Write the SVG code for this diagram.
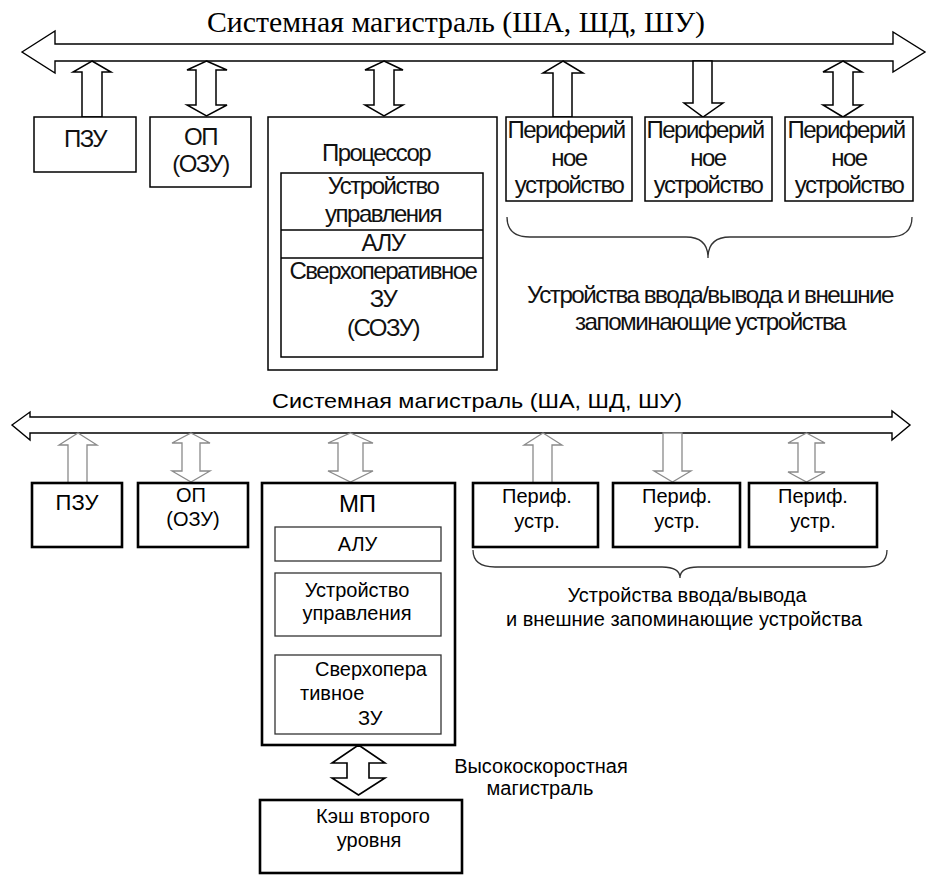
<svg xmlns="http://www.w3.org/2000/svg" width="933" height="881" viewBox="0 0 933 881">
<style>
.bg{fill:#fff}
.bus{fill:#fff;stroke:#000;stroke-width:1.4}
.arT{fill:#fff;stroke:#000;stroke-width:1.5}
.arB{fill:#fff;stroke:#8a8a8a;stroke-width:1.3}
.arC{fill:#fff;stroke:#000;stroke-width:1.6}
.boxT{fill:#fff;stroke:#000;stroke-width:1.5}
.boxB{fill:#fff;stroke:#000;stroke-width:2.6}
.inB{fill:#fff;stroke:#333;stroke-width:1.3}
.brace{fill:none;stroke:#333;stroke-width:1.3}
.tT{font-family:"Liberation Sans",Arial,sans-serif;font-size:24px;letter-spacing:-1.5px;fill:#111;text-anchor:middle}
.tB{font-family:"Liberation Sans",Arial,sans-serif;font-size:20px;fill:#000;text-anchor:middle}
.tBL{font-family:"Liberation Sans",Arial,sans-serif;font-size:20px;fill:#000}
.ttl{font-family:"Liberation Serif","Times New Roman",serif;font-size:29px;fill:#000;text-anchor:middle}
</style>
<rect class="bg" x="0" y="0" width="933" height="881"/>

<!-- TOP DIAGRAM -->
<text class="ttl" x="456" y="32" textLength="498" lengthAdjust="spacingAndGlyphs">Системная магистраль (ША, ШД, ШУ)</text>

<g id="connectors-top">
  <polygon id="bus-top" class="bus" points="22,52 55,31 55,44 893,44 893,32 925,52 893,72 893,61 55,61 55,73"/>
  <polygon class="arT" points="92,61 111,72 102,72 102,117 82,117 82,72 73,72"/>
  <polygon class="arT" points="206.5,61 227,70 216,70 216,105 227,105 206.5,116 187,105 196,105 196,70 187,70"/>
  <polygon class="arT" points="384,61 403,70 394,70 394,105 403,105 384,116 365,105 374,105 374,70 365,70"/>
  <polygon class="arT" points="563,61 583,73 572,73 572,117 553,117 553,73 543,73"/>
  <polygon class="arT" points="693,61 712,61 712,103 723,103 703,117 684,103 693,103"/>
  <polygon class="arT" points="843,61 862,72 853,72 853,105 862,105 843,117 823,105 833,105 833,72 823,72"/>
  <path class="brace" d="M507,217 Q507,237 530,237 L686,237 Q708,237 708,258 Q708,237 730,237 L889,237 Q912,237 912,217"/>
</g>

<g id="node-pzu-top">
  <rect class="boxT" x="34" y="117" width="102" height="55"/>
  <text class="tT" x="85" y="147">ПЗУ</text>
</g>
<g id="node-op-top">
  <rect class="boxT" x="150" y="117" width="101" height="70"/>
  <text class="tT" x="200.5" y="145">ОП</text>
  <text class="tT" x="200.5" y="172">(ОЗУ)</text>
</g>
<g id="node-cpu-top">
  <rect class="boxT" x="268" y="117" width="229" height="253"/>
  <text class="tT" x="376" y="161">Процессор</text>
  <rect class="boxT" x="281" y="173" width="202" height="184"/>
  <line x1="281" y1="230" x2="483" y2="230" stroke="#000" stroke-width="1.5"/>
  <line x1="281" y1="258" x2="483" y2="258" stroke="#000" stroke-width="1.5"/>
  <text class="tT" x="383" y="194">Устройство</text>
  <text class="tT" x="383" y="222">управления</text>
  <text class="tT" x="383" y="251">АЛУ</text>
  <text class="tT" x="383" y="279">Сверхоперативное</text>
  <text class="tT" x="383" y="307">ЗУ</text>
  <text class="tT" x="383" y="336">(СОЗУ)</text>
</g>
<g id="node-per1-top">
  <rect class="boxT" x="506" y="117" width="126" height="84"/>
  <text class="tT" x="566" y="138">Периферий</text>
  <text class="tT" x="569" y="166">ное</text>
  <text class="tT" x="569" y="193">устройство</text>
</g>
<g id="node-per2-top">
  <rect class="boxT" x="645" y="117" width="127" height="84"/>
  <text class="tT" x="705" y="138">Периферий</text>
  <text class="tT" x="708" y="166">ное</text>
  <text class="tT" x="708" y="193">устройство</text>
</g>
<g id="node-per3-top">
  <rect class="boxT" x="785" y="117" width="128" height="84"/>
  <text class="tT" x="846" y="138">Периферий</text>
  <text class="tT" x="849" y="166">ное</text>
  <text class="tT" x="849" y="193">устройство</text>
</g>
<g id="label-io-top">
  <text class="tT" x="710" y="303" textLength="366" lengthAdjust="spacingAndGlyphs">Устройства ввода/вывода и внешние</text>
  <text class="tT" x="710" y="330" textLength="270" lengthAdjust="spacingAndGlyphs">запоминающие устройства</text>
</g>

<!-- BOTTOM DIAGRAM -->
<text class="tB" x="477" y="408" style="font-size:21px" textLength="410" lengthAdjust="spacingAndGlyphs">Системная магистраль (ША, ШД, ШУ)</text>

<g id="connectors-bottom">
  <polygon id="bus-bottom" class="bus" points="12,425 30,412 30,417 892,417 892,411 910,425 892,440 892,433 30,433 30,440"/>
  <polygon class="arB" points="78,433 97,445 87,445 87,483 68,483 68,445 59,445"/>
  <polygon class="arB" points="191,433 210,443 200,443 200,471 210,471 191,482 172,471 182,471 182,443 172,443"/>
  <polygon class="arB" points="350.5,433 373,443 363,443 363,471 373,471 350.5,482 328,471 338,471 338,443 328,443"/>
  <polygon class="arB" points="543,433 562,445 552,445 552,483 533,483 533,445 524,445"/>
  <polygon class="arB" points="663,433 682,433 682,471 691,471 672.5,482 654,471 663,471"/>
  <polygon class="arB" points="806.5,433 825,443 815,443 815,472 825,472 806.5,482 788,472 798,472 798,443 788,443"/>
  <polygon class="arC" points="358.5,745 385,763 369,763 369,778 385,778 358.5,795 332,778 347,778 347,763 332,763"/>
  <path class="brace" d="M473,550 Q473,567 495,567 L662,567 Q680,567 680,578 Q680,567 698,567 L865,567 Q887,567 887,550"/>
</g>

<g id="node-pzu-bottom">
  <rect class="boxB" x="32" y="483" width="90" height="64"/>
  <text class="tB" x="77" y="510" style="font-size:22px">ПЗУ</text>
</g>
<g id="node-op-bottom">
  <rect class="boxB" x="138" y="483" width="110" height="64"/>
  <text class="tB" x="191" y="502">ОП</text>
  <text class="tB" x="193" y="526">(ОЗУ)</text>
</g>
<g id="node-mp-bottom">
  <rect class="boxB" x="262" y="483" width="193" height="262"/>
  <text class="tB" x="357.5" y="512" style="font-size:24px">МП</text>
  <rect class="inB" x="275" y="527" width="166" height="34"/>
  <text class="tB" x="357.5" y="551">АЛУ</text>
  <rect class="inB" x="275" y="573" width="166" height="63"/>
  <text class="tB" x="357" y="597">Устройство</text>
  <text class="tB" x="357" y="620">управления</text>
  <rect class="inB" x="275" y="655" width="166" height="79"/>
  <text class="tBL" x="315" y="676">Сверхопера</text>
  <text class="tBL" x="300" y="700">тивное</text>
  <text class="tBL" x="358" y="725">ЗУ</text>
</g>
<g id="node-per1-bottom">
  <rect class="boxB" x="473" y="483" width="125" height="64"/>
  <text class="tB" x="537" y="503">Периф.</text>
  <text class="tB" x="537" y="528">устр.</text>
</g>
<g id="node-per2-bottom">
  <rect class="boxB" x="613" y="483" width="127" height="64"/>
  <text class="tB" x="677" y="503">Периф.</text>
  <text class="tB" x="677" y="528">устр.</text>
</g>
<g id="node-per3-bottom">
  <rect class="boxB" x="749" y="483" width="128" height="64"/>
  <text class="tB" x="813" y="503">Периф.</text>
  <text class="tB" x="813" y="528">устр.</text>
</g>
<g id="label-io-bottom">
  <text class="tB" x="687" y="602">Устройства ввода/вывода</text>
  <text class="tB" x="684" y="626">и внешние запоминающие устройства</text>
</g>
<g id="node-cache">
  <rect class="boxB" x="260" y="800" width="202" height="73"/>
  <text class="tB" x="373" y="823">Кэш второго</text>
  <text class="tB" x="369" y="847">уровня</text>
</g>
<g id="label-highspeed">
  <text class="tB" x="541" y="773">Высокоскоростная</text>
  <text class="tB" x="540" y="795">магистраль</text>
</g>
</svg>
